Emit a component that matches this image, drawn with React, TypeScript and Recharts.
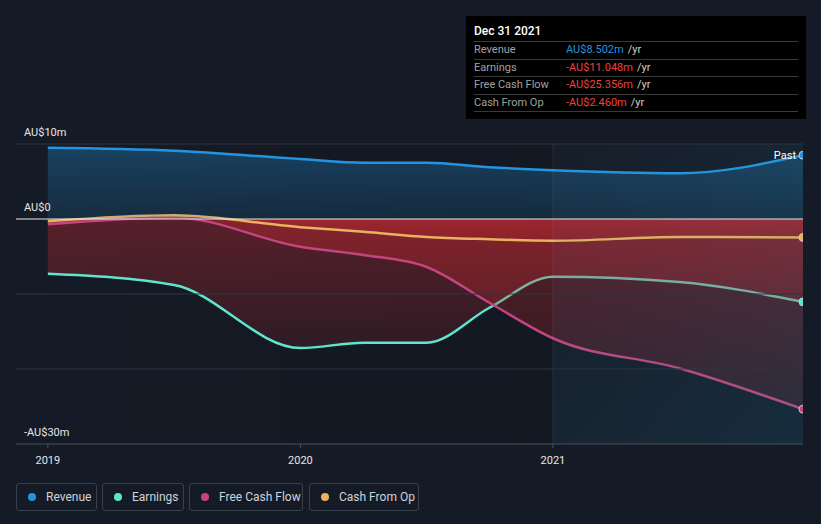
import React from 'react'
import {
  ComposedChart,
  Area,
  XAxis,
  YAxis,
  ReferenceLine,
  ReferenceArea,
} from 'recharts'

// fractional years, last point = Dec 31 2021
const years = [2019, 2019.5, 2020, 2020.25, 2020.5, 2020.75, 2021, 2021.5, 2021.99]
const revenue = [9.5, 9.1, 8.0, 7.5, 7.5, 6.9, 6.5, 6.1, 8.502]
const earnings = [-7.3, -8.8, -17.2, -16.5, -16.5, -11.8, -7.7, -8.4, -11.048]
const freeCashFlow = [-0.7, 0.2, -3.7, -4.8, -6.4, -11.2, -15.9, -19.9, -25.356]
const cashFromOp = [-0.3, 0.5, -1.1, -1.7, -2.4, -2.7, -2.9, -2.4, -2.46]

const xTicks = [2019, 2020, 2021]
const yLabelValues = [10, 0, -30]
const yLabelTexts = ['AU$10m', 'AU$0', '-AU$30m']
const gridValues = [10, -10, -20]

const COLORS = {
  revenue: '#2394df',
  earnings: '#5de6cb',
  fcf: '#c4447f',
  cfo: '#e8b25f',
}

const data = years.map((year, i) => ({
  year,
  revenue: revenue[i],
  earnings: earnings[i],
  fcf: freeCashFlow[i],
  cfo: cashFromOp[i],
}))

const LAST = data.length - 1

const FONT = 'Roboto, "Noto Sans", sans-serif'

function yLabel(text: string) {
  // eslint-disable-next-line @typescript-eslint/no-explicit-any
  return ({ viewBox }: any) => (
    <text x={24} y={viewBox.y - 8} fill="#e6e6e6" fontSize={11} fontFamily={FONT}>
      {text}
    </text>
  )
}

function XTick({ x, y, payload }: any) {
  return (
    <text x={x} y={y + 14} fill="#e6e6e6" fontSize={11} fontFamily={FONT} textAnchor="middle">
      {payload.value}
    </text>
  )
}

function endDot(color: string, past = false) {
  // eslint-disable-next-line @typescript-eslint/no-explicit-any
  return (props: any) => {
    const { cx, cy, index } = props
    if (index !== LAST) return <g key={`d-${index}`} />
    return (
      <g key={`d-${index}`}>
        {past && (
          <text x={cx - 7} y={cy + 4} fill="#ffffff" fontSize={11} fontFamily={FONT} textAnchor="end">
            Past
          </text>
        )}
        <circle cx={cx} cy={cy} r={4} fill={color} stroke="#c8ced8" strokeWidth={1} />
      </g>
    )
  }
}

const rows = [
  { label: 'Revenue', value: 'AU$8.502m', color: '#2394df' },
  { label: 'Earnings', value: '-AU$11.048m', color: '#f0403f' },
  { label: 'Free Cash Flow', value: '-AU$25.356m', color: '#f0403f' },
  { label: 'Cash From Op', value: '-AU$2.460m', color: '#f0403f' },
]

const legend = [
  { label: 'Revenue', color: COLORS.revenue, left: 16, width: 81 },
  { label: 'Earnings', color: COLORS.earnings, left: 102, width: 82 },
  { label: 'Free Cash Flow', color: COLORS.fcf, left: 189, width: 114 },
  { label: 'Cash From Op', color: COLORS.cfo, left: 309, width: 110 },
]

export default function App() {
  return (
    <div
      style={{
        position: 'absolute',
        left: 0,
        top: 0,
        width: 821,
        height: 524,
        background: '#151b26',
        fontFamily: FONT,
        overflow: 'hidden',
      }}
    >
      <ComposedChart
        width={821}
        height={470}
        data={data}
        margin={{ top: 144, right: 18, bottom: 6, left: 16 }}
      >
        <defs>
          <linearGradient id="revFill" x1="0" y1="0" x2="0" y2="1">
            <stop offset="0%" stopColor="#2394df" stopOpacity={0.32} />
            <stop offset="100%" stopColor="#2394df" stopOpacity={0.14} />
          </linearGradient>
          <linearGradient id="redFill" x1="0" y1="0" x2="0" y2="1">
            <stop offset="0%" stopColor="#d22a32" stopOpacity={0.36} />
            <stop offset="100%" stopColor="#d22a32" stopOpacity={0.14} />
          </linearGradient>
          <linearGradient id="pastShade" x1="0" y1="0" x2="1" y2="0">
            <stop offset="0%" stopColor="#000000" stopOpacity={0.05} />
            <stop offset="100%" stopColor="#000000" stopOpacity={0.25} />
          </linearGradient>
          <linearGradient id="futureFill" x1="0" y1="0" x2="1" y2="1">
            <stop offset="0%" stopColor="#3a8fb0" stopOpacity={0.04} />
            <stop offset="100%" stopColor="#1f8fb8" stopOpacity={0.3} />
          </linearGradient>
        </defs>

        <XAxis
          dataKey="year"
          type="number"
          domain={[2018.874, 2021.99]}
          ticks={xTicks}
          height={20}
          axisLine={{ stroke: '#4a505b' }}
          tickLine={{ stroke: '#4a505b' }}
          tickSize={4}
          tick={<XTick />}
          allowDataOverflow
        />
        <YAxis type="number" domain={[-30, 10]} hide allowDataOverflow />

        <ReferenceArea x1={2019} x2={2021} y1={-30} y2={10} fill="url(#pastShade)" stroke="none" />

        {gridValues.map((v) => (
          <ReferenceLine key={v} y={v} stroke="#2f3541" strokeWidth={1} />
        ))}

        <Area
          type="monotone"
          dataKey="earnings"
          baseValue={0}
          stroke={COLORS.earnings}
          strokeWidth={2.5}
          fill="url(#redFill)"
          fillOpacity={1}
          dot={endDot(COLORS.earnings)}
          activeDot={false}
          isAnimationActive={false}
        />
        <Area
          type="monotone"
          dataKey="fcf"
          baseValue={0}
          stroke={COLORS.fcf}
          strokeWidth={2.5}
          fill="url(#redFill)"
          fillOpacity={1}
          dot={endDot(COLORS.fcf)}
          activeDot={false}
          isAnimationActive={false}
        />
        <Area
          type="monotone"
          dataKey="cfo"
          baseValue={0}
          stroke={COLORS.cfo}
          strokeWidth={2.5}
          fill="url(#redFill)"
          fillOpacity={1}
          dot={endDot(COLORS.cfo)}
          activeDot={false}
          isAnimationActive={false}
        />
        <Area
          type="monotone"
          dataKey="revenue"
          baseValue={0}
          stroke={COLORS.revenue}
          strokeWidth={2.5}
          fill="url(#revFill)"
          fillOpacity={1}
          dot={endDot(COLORS.revenue, true)}
          activeDot={false}
          isAnimationActive={false}
        />

        <ReferenceLine y={0} stroke="#e9e9e9" strokeWidth={1} />
        <ReferenceArea x1={2021} x2={2021.99} y1={-30} y2={10} fill="url(#futureFill)" stroke="none" />
        <ReferenceLine x={2021} stroke="#ffffff" strokeOpacity={0.08} />

        {/* y labels sit just above their gridlines */}
        {yLabelValues.map((v, i) => (
          <ReferenceLine key={`lbl-${v}`} y={v} stroke="none" label={yLabel(yLabelTexts[i])} />
        ))}
      </ComposedChart>

      {/* tooltip card */}
      <div
        style={{
          position: 'absolute',
          left: 466,
          top: 16,
          width: 340,
          height: 103,
          background: '#000000',
          boxSizing: 'border-box',
          padding: '0 8px',
        }}
      >
        <div style={{ color: '#ffffff', fontSize: 12, fontWeight: 500, height: 25, lineHeight: '31px' }}>
          Dec 31 2021
        </div>
        {rows.map((r) => (
          <div
            key={r.label}
            style={{
              borderTop: '1px solid #3a3a3a',
              height: 16.5,
              lineHeight: '16.5px',
              fontSize: 11,
              display: 'flex',
            }}
          >
            <span style={{ color: '#a0a0a0', width: 92 }}>{r.label}</span>
            <span style={{ color: r.color }}>{r.value}</span>
            <span style={{ color: '#d0d0d0', marginLeft: 4 }}>/yr</span>
          </div>
        ))}
        <div style={{ borderTop: '1px solid #3a3a3a' }} />
      </div>

      {/* legend */}
      {legend.map((l) => (
        <div
          key={l.label}
          style={{
            position: 'absolute',
            left: l.left,
            top: 483,
            width: l.width,
            height: 28,
            boxSizing: 'border-box',
            border: '1px solid #3a404b',
            borderRadius: 3,
            display: 'flex',
            alignItems: 'center',
            paddingLeft: 11,
            fontSize: 12,
            color: '#cfd3da',
          }}
        >
          <span
            style={{
              width: 8,
              height: 8,
              borderRadius: '50%',
              background: l.color,
              marginRight: 10,
              flexShrink: 0,
            }}
          />
          {l.label}
        </div>
      ))}
    </div>
  )
}
